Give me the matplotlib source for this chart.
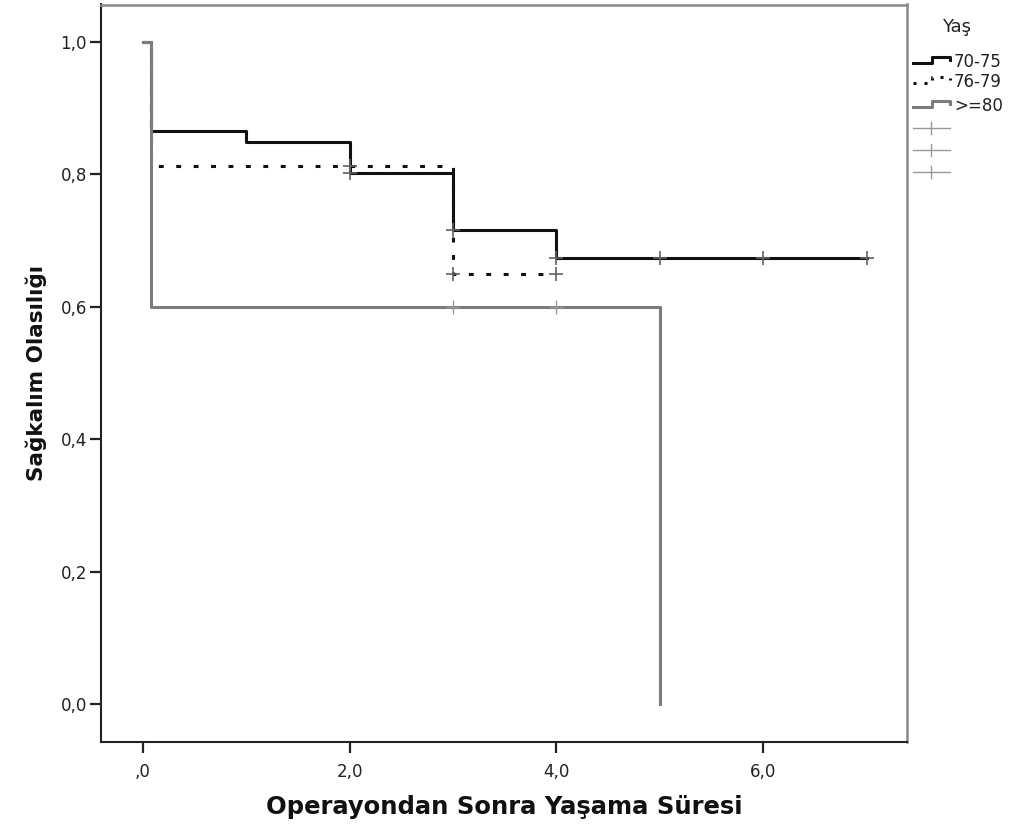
import matplotlib
matplotlib.use("Agg")
import matplotlib.pyplot as plt
from matplotlib.lines import Line2D

plt.rcParams['font.family'] = ['DejaVu Sans']

# Kaplan-Meier step data (time, survival)
t_7075 = [0.0, 0.08, 1.0, 2.0, 3.0, 4.0, 7.0]
s_7075 = [1.0, 0.865, 0.849, 0.802, 0.715, 0.673, 0.673]
cens_t_7075 = [2.0, 3.0, 4.0, 5.0, 6.0, 7.0]
cens_s_7075 = [0.802, 0.715, 0.673, 0.673, 0.673, 0.673]

t_7679 = [0.0, 0.08, 3.0, 4.0]
s_7679 = [1.0, 0.813, 0.650, 0.650]
cens_t_7679 = [2.0, 3.0, 4.0]
cens_s_7679 = [0.813, 0.650, 0.650]

t_80 = [0.0, 0.08, 5.0, 5.0]
s_80 = [1.0, 0.600, 0.0, 0.0]
cens_t_80 = [3.0, 4.0]
cens_s_80 = [0.600, 0.600]

group_labels = ["70-75", "76-79", ">=80"]
legend_title = "Yaş"
xticks = [0, 2, 4, 6]
xtick_labels = [",0", "2,0", "4,0", "6,0"]
yticks = [0.0, 0.2, 0.4, 0.6, 0.8, 1.0]
ytick_labels = ["0,0", "0,2", "0,4", "0,6", "0,8", "1,0"]

BLACK = "#111111"
GREY = "#7c7c7c"
CENS = "#606060"
DOTTED = (0, (1.6, 4.1))

fig = plt.figure(figsize=(10.24, 8.31), dpi=100)
ax = fig.add_axes([101/1024, 1-742/831, (907-101)/1024, (742-4.5)/831])

ax.step(t_7679, s_7679, where='post', color=BLACK, lw=2.2,
        linestyle=DOTTED, dash_capstyle='butt', zorder=2)
ax.step(t_7075, s_7075, where='post', color=BLACK, lw=2.2, zorder=3)
ax.step(t_80, s_80, where='post', color=GREY, lw=2.2, zorder=4)

ax.plot(cens_t_7075, cens_s_7075, '+', color=CENS, ms=10, mew=1.2, zorder=5)
ax.plot(cens_t_7679, cens_s_7679, '+', color=CENS, ms=10, mew=1.2, zorder=5)
ax.plot(cens_t_80, cens_s_80, '+', color="#999999", ms=10, mew=1.0, zorder=5)

ax.set_xlim(-0.403, 7.39)
ax.set_ylim(-0.057, 1.056)
ax.set_xticks(xticks)
ax.set_xticklabels(xtick_labels)
ax.set_yticks(yticks)
ax.set_yticklabels(ytick_labels)
ax.tick_params(axis='both', direction='out', length=8, width=1.6, color="#222222",
               labelsize=12, labelcolor="#222222")
ax.tick_params(axis='x', pad=7)
ax.tick_params(axis='y', pad=2)
for side in ['left', 'bottom']:
    ax.spines[side].set_color("#222222")
    ax.spines[side].set_linewidth(1.5)
for side in ['top', 'right']:
    ax.spines[side].set_color("#888888")
    ax.spines[side].set_linewidth(1.8)

ax.set_xlabel("Operayondan Sonra Yaşama Süresi", fontsize=17.5, fontweight='bold',
              labelpad=10, color="#111111")
ax.set_ylabel("Sağkalım Olasılığı", fontsize=15.5, fontweight='bold',
              labelpad=10, color="#111111")

# Manual legend to the right of the plot (figure pixel coords -> fraction)
def fx(px):
    return px / 1024
def fy(py):
    return 1 - py / 831

fig.text(fx(942), fy(27), legend_title, fontsize=13, color="#222222",
         ha='left', va='center')

entries = [(63, BLACK, '-'), (83, BLACK, ':'), (107, GREY, '-')]
for (y, c, ls), lab in zip(entries, group_labels):
    xs = [fx(913), fx(932), fx(932), fx(950), fx(950)]
    ys = [fy(y), fy(y), fy(y-6), fy(y-6), fy(y-3)]
    if ls == ':':
        fig.add_artist(Line2D(xs, ys, color=c, lw=2.2, linestyle=(0, (1.0, 2.6)),
                              transform=fig.transFigure))
    else:
        fig.add_artist(Line2D(xs, ys, color=c, lw=2.2, transform=fig.transFigure))
    fig.text(fx(954), fy(y-1), lab, fontsize=12, color="#222222",
             ha='left', va='center')

for y in [128, 150, 172]:
    fig.add_artist(Line2D([fx(913), fx(950)], [fy(y), fy(y)], color="#999999",
                          lw=1.0, transform=fig.transFigure))
    fig.add_artist(Line2D([fx(931), fx(931)], [fy(y-6), fy(y+6)], color="#999999",
                          lw=1.0, transform=fig.transFigure))

fig.savefig("out.png", dpi=100)
